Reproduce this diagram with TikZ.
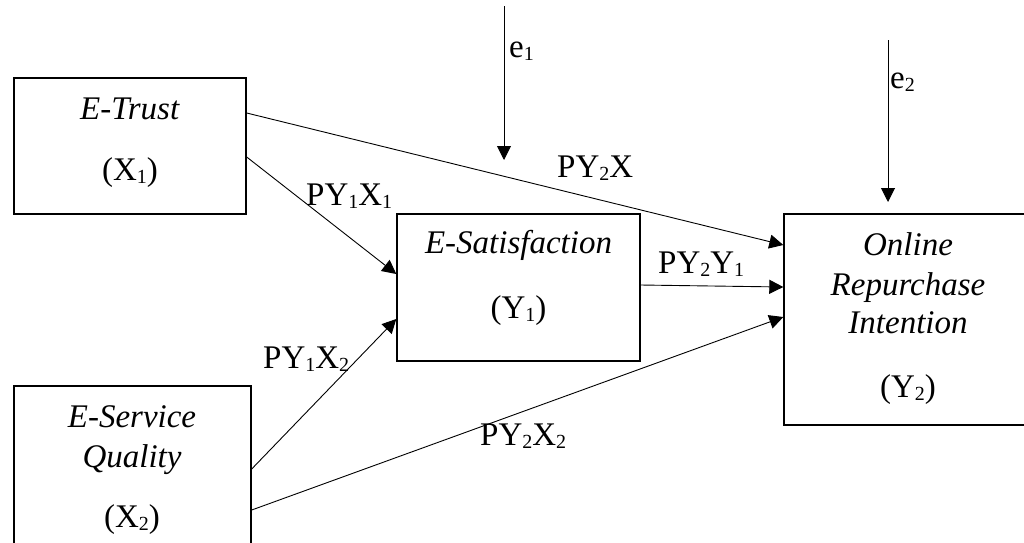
\documentclass[tikz,border=0pt]{standalone}
\usepackage{fontspec}
\setmainfont{Liberation Serif}
\usetikzlibrary{arrows.meta,positioning,calc}
\newcommand{\sbs}[1]{\raisebox{-0.1em}{\fontsize{20}{20}\selectfont #1}}

\begin{document}
\begin{tikzpicture}[x=1pt, y=-1pt,
    every node/.style={font=\fontsize{33}{38}\selectfont, inner sep=0pt},
    box/.style={draw, line width=1.4pt},
    link/.style={line width=0.9pt, -{Triangle[length=14pt, width=14pt]}},
    coef/.style={anchor=base west}]
    \useasboundingbox (0,0) rectangle (1024,542);
    \clip (0,0) rectangle (1024,542);
    % variables
    \node[box, minimum width=232pt, minimum height=136pt] (trust) at (130,146) {};
    \node[box, minimum width=237pt, minimum height=174pt] (service) at (132.5,473) {};
    \node[box, minimum width=243pt, minimum height=147pt] (sat) at (518.5,287.5) {};
    \node[box, minimum width=250pt, minimum height=211pt] (intent) at (909,319.5) {};
    \node[anchor=base] (trustname) at (130,119) {\textit{E-Trust}};
    \node[anchor=base] (trustvar) at (130,180) {(X\sbs{1})};
    \node[anchor=base] (servicename) at (132,427) {\textit{E-Service}};
    \node[anchor=base] (servicename2) at (132,467) {\textit{Quality}};
    \node[anchor=base] (servicevar) at (132,527) {(X\sbs{2})};
    \node[anchor=base] (satname) at (518.5,253) {\textit{E-Satisfaction}};
    \node[anchor=base] (satvar) at (518.5,318) {(Y\sbs{1})};
    \node[anchor=base] (intentname) at (908,255) {\textit{Online}};
    \node[anchor=base] (intentname2) at (908,295) {\textit{Repurchase}};
    \node[anchor=base] (intentname3) at (908,333) {\textit{Intention}};
    \node[anchor=base] (intentvar) at (908,397) {(Y\sbs{2})};
    % error terms
    \coordinate (e1top) at (504,6);
    \coordinate (e1end) at (504,160);
    \coordinate (e2top) at (888,40);
    \coordinate (e2end) at (888,202);
    \draw[link] (e1top) -- (e1end);
    \draw[link] (e2top) -- (e2end);
    \node[coef] (err1) at (509,57) {e\sbs{1}};
    \node[coef] (err2) at (890,88) {e\sbs{2}};
    % paths
    \draw[link] ([yshift=33pt]trust.east) -- ([yshift=74.5pt]intent.west);
    \draw[link] ([yshift=-11pt]trust.east) -- ([yshift=13.5pt]sat.west);
    \draw[link] ([yshift=4pt]service.east) -- ([yshift=-31.5pt]sat.west);
    \draw[link] ([yshift=-37pt]service.east) -- ([yshift=2.5pt]intent.west);
    \draw[link] ([yshift=2.5pt]sat.east) -- ([yshift=32.5pt]intent.west);
    \node[coef] (py2x) at (557,177) {PY\sbs{2}X};
    \node[coef] (py1x1) at (306,205) {PY\sbs{1}X\sbs{1}};
    \node[coef] (py1x2) at (263,368) {PY\sbs{1}X\sbs{2}};
    \node[coef] (py2y1) at (658,273) {PY\sbs{2}Y\sbs{1}};
    \node[coef] (py2x2) at (480,445) {PY\sbs{2}X\sbs{2}};
\end{tikzpicture}
\end{document}
